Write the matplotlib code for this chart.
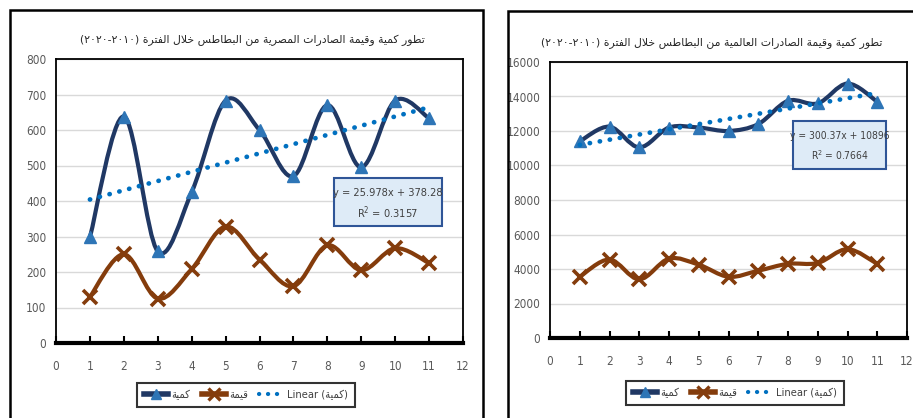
import numpy as np
import matplotlib
matplotlib.use("Agg")
import matplotlib.pyplot as plt
from matplotlib.path import Path
from matplotlib.patches import PathPatch, Rectangle
from matplotlib.lines import Line2D

# ---------------- data ----------------
x_idx = [1, 2, 3, 4, 5, 6, 7, 8, 9, 10, 11]
egypt_qty = [298, 638, 258, 425, 683, 600, 470, 670, 495, 683, 633]
egypt_val = [130, 250, 125, 208, 328, 235, 160, 275, 205, 267, 225]
world_qty = [11400, 12250, 11050, 12200, 12200, 12000, 12400, 13750, 13600, 14750, 13700]
world_val = [3550, 4550, 3400, 4600, 4250, 3550, 3900, 4300, 4350, 5150, 4300]
egypt_fit = [25.978, 378.28, 0.3157]
world_fit = [300.37, 10896, 0.7664]
x_ticks = list(range(0, 13))
egypt_yticks = list(range(0, 801, 100))
world_yticks = list(range(0, 16001, 2000))
title_egypt = "تطور كمية وقيمة الصادرات المصرية من البطاطس خلال الفترة"
title_world = "تطور كمية وقيمة الصادرات العالمية من البطاطس خلال الفترة"
period = ("٢٠١٠", "٢٠٢٠")
lbl_qty = "كمية"
lbl_val = "قيمة"

# ---------------- minimal Arabic shaping ----------------
FORMS = {
    'ا': (0xFE8D, 0xFE8E, None, None),
    'ب': (0xFE8F, 0xFE90, 0xFE91, 0xFE92),
    'ة': (0xFE93, 0xFE94, None, None),
    'ت': (0xFE95, 0xFE96, 0xFE97, 0xFE98),
    'خ': (0xFEA5, 0xFEA6, 0xFEA7, 0xFEA8),
    'د': (0xFEA9, 0xFEAA, None, None),
    'ر': (0xFEAD, 0xFEAE, None, None),
    'س': (0xFEB1, 0xFEB2, 0xFEB3, 0xFEB4),
    'ص': (0xFEB9, 0xFEBA, 0xFEBB, 0xFEBC),
    'ط': (0xFEC1, 0xFEC2, 0xFEC3, 0xFEC4),
    'ع': (0xFEC9, 0xFECA, 0xFECB, 0xFECC),
    'ف': (0xFED1, 0xFED2, 0xFED3, 0xFED4),
    'ق': (0xFED5, 0xFED6, 0xFED7, 0xFED8),
    'ك': (0xFED9, 0xFEDA, 0xFEDB, 0xFEDC),
    'ل': (0xFEDD, 0xFEDE, 0xFEDF, 0xFEE0),
    'م': (0xFEE1, 0xFEE2, 0xFEE3, 0xFEE4),
    'ن': (0xFEE5, 0xFEE6, 0xFEE7, 0xFEE8),
    'و': (0xFEED, 0xFEEE, None, None),
    'ي': (0xFEF1, 0xFEF2, 0xFEF3, 0xFEF4),
}


def shape_word(w):
    units = []
    i = 0
    while i < len(w):
        if w[i] == 'ل' and i + 1 < len(w) and w[i + 1] == 'ا':
            units.append('LA')
            i += 2
        else:
            units.append(w[i])
            i += 1

    def dual(u):
        return u in FORMS and FORMS[u][2] is not None

    out = []
    for k, u in enumerate(units):
        jp = k > 0 and dual(units[k - 1])
        if u == 'LA':
            out.append(chr(0xFEFC if jp else 0xFEFB))
            continue
        if u not in FORMS:
            out.append(u)
            continue
        jn = dual(u) and k + 1 < len(units) and (units[k + 1] in FORMS or units[k + 1] == 'LA')
        iso, fin, ini, med = FORMS[u]
        if jp and jn:
            c = med
        elif jp:
            c = fin
        elif jn:
            c = ini
        else:
            c = iso
        out.append(chr(c))
    return ''.join(out)


def visual(text):
    words = text.split(' ')
    return ' '.join(shape_word(w)[::-1] for w in words[::-1])


# ---------------- fonts ----------------
plt.rcParams['font.family'] = ['DejaVu Sans']
plt.rcParams['font.stretch'] = 'condensed'

W, H = 913, 418
fig = plt.figure(figsize=(W / 100, H / 100), dpi=100)


def fx(px):
    return px / W


def fy(py):
    return 1 - py / H


NAVY = '#203864'
TRI = '#2E75B6'
BROWN = '#843C0C'
TREND = '#0070C0'
GRID = '#D9D9D9'
TICKC = '#595959'
DOTS = (0, (0.05, 2.1))


def smooth_path(xs, ys, t=1 / 6):
    p = np.column_stack([xs, ys]).astype(float)
    n = len(p)
    verts = [p[0]]
    codes = [Path.MOVETO]
    for i in range(n - 1):
        p0 = p[i - 1] if i > 0 else p[i]
        p1 = p[i]
        p2 = p[i + 1]
        p3 = p[i + 2] if i + 2 < n else p[i + 1]
        c1 = p1 + (p2 - p0) * t
        c2 = p2 - (p3 - p1) * t
        verts += [c1, c2, p2]
        codes += [Path.CURVE4] * 3
    return Path(verts, codes)


def make_chart(frame_px, ax_px, qty, val, fit, yticks, title, title_xy, box_px, leg_c, box_fs):
    x0, y0, x1 = frame_px
    fig.patches.append(Rectangle((fx(x0), fy(H + 20)), fx(x1 - x0), fy(y0) - fy(H + 20),
                                 transform=fig.transFigure, fill=False, edgecolor='black',
                                 linewidth=1.8, zorder=0))
    l, t_, r, b = ax_px
    ax = fig.add_axes([fx(l), fy(b), fx(r - l), fy(t_) - fy(b)])
    ax.set_xlim(0, 12)
    ax.set_ylim(yticks[0], yticks[-1])
    ax.set_xticks(x_ticks)
    ax.set_yticks(yticks)
    ax.yaxis.grid(True, color=GRID, linewidth=1.0)
    ax.set_axisbelow(True)
    for s in ['left', 'top', 'right']:
        ax.spines[s].set_linewidth(1.3)
        ax.spines[s].set_color('black')
    ax.spines['bottom'].set_linewidth(3.0)
    ax.tick_params(axis='x', direction='in', length=5, width=1.5, colors='black',
                   labelcolor=TICKC, labelsize=8.5, pad=12)
    ax.tick_params(axis='y', length=0, labelcolor=TICKC, labelsize=8.5, pad=7)

    ax.add_patch(PathPatch(smooth_path(x_idx, qty), fill=False, edgecolor=NAVY,
                           linewidth=3.0, capstyle='round', joinstyle='round', zorder=3))
    ax.plot(x_idx, qty, linestyle='none', marker='^', markersize=9,
            color=TRI, markeredgecolor=TRI, zorder=4)
    ax.add_patch(PathPatch(smooth_path(x_idx, val), fill=False, edgecolor=BROWN,
                           linewidth=3.0, capstyle='round', joinstyle='round', zorder=3))
    ax.plot(x_idx, val, linestyle='none', marker='x', markersize=10, markeredgewidth=2.6,
            color=BROWN, zorder=4)
    slope, icpt, r2 = fit
    xt = np.array([x_idx[0], x_idx[-1]], dtype=float)
    ax.plot(xt, slope * xt + icpt, color=TREND, linewidth=3.4,
            linestyle=DOTS, dash_capstyle='round', zorder=5)

    fig.text(fx(title_xy[0]), fy(title_xy[1]),
             '(' + period[1] + '-' + period[0] + ') ' + visual(title),
             ha='center', va='center', fontsize=7.8, color='#262626',
             family=['DejaVu Sans'], fontstretch='normal')

    bx0, by0, bx1, by1 = box_px
    fig.patches.append(Rectangle((fx(bx0), fy(by1)), fx(bx1 - bx0), fy(by0) - fy(by1),
                                 transform=fig.transFigure, facecolor='#DEEBF7',
                                 edgecolor='#2F5597', linewidth=1.5, zorder=6))
    cx = (bx0 + bx1) / 2
    fig.text(fx(cx), fy(by0 + (by1 - by0) * 0.32),
             'y = %gx + %g' % (slope, icpt),
             ha='center', va='center', fontsize=box_fs, color='#404040', zorder=7)
    fig.text(fx(cx), fy(by0 + (by1 - by0) * 0.72), 'R$^{2}$ = %g' % r2,
             ha='center', va='center', fontsize=box_fs, color='#404040', zorder=7)

    handles = [
        Line2D([], [], color=NAVY, linewidth=4, marker='^', markersize=7,
               markerfacecolor=TRI, markeredgecolor=TRI),
        Line2D([], [], color=BROWN, linewidth=4, marker='x', markersize=8,
               markeredgewidth=2.4, markeredgecolor=BROWN),
        Line2D([], [], color=TREND, linewidth=3, linestyle=DOTS,
               dash_capstyle='round'),
    ]
    labels = [visual(lbl_qty), visual(lbl_val), 'Linear (' + visual(lbl_qty) + ')']
    leg = fig.legend(handles, labels, loc='center', bbox_to_anchor=(fx(leg_c[0]), fy(leg_c[1])),
                     ncol=3, frameon=True, fancybox=False, fontsize=8,
                     handlelength=2.2, handletextpad=0.3, columnspacing=1.0,
                     borderpad=0.6, edgecolor='black')
    leg.get_frame().set_linewidth(1.5)
    for txt in leg.get_texts():
        txt.set_color('#404040')
    return ax


make_chart((10, 10, 483), (56, 59, 463, 343), egypt_qty, egypt_val, egypt_fit,
           egypt_yticks, title_egypt, (252, 40), (334, 178, 442, 226), (246, 395), 7.9)
make_chart((508, 11, 940), (550, 62, 907, 338), world_qty, world_val, world_fit,
           world_yticks, title_world, (712, 43), (793, 121, 886, 169), (735, 393), 7.4)

fig.savefig('out.png', dpi=100)
